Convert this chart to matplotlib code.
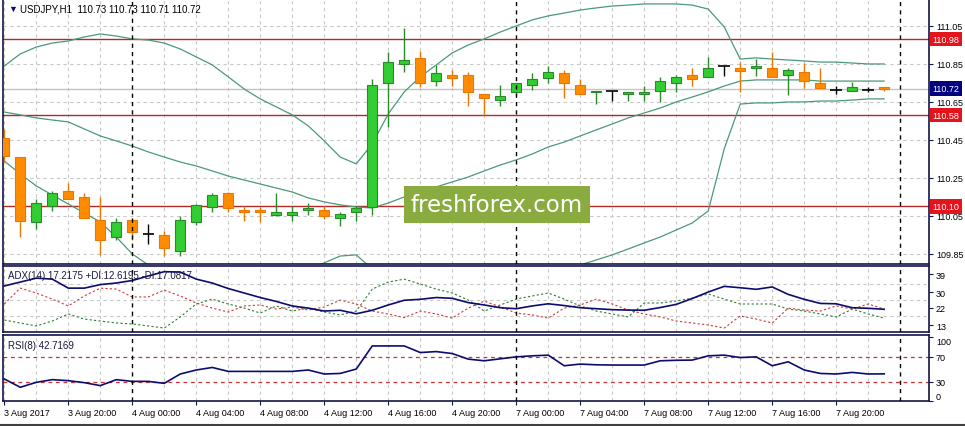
import matplotlib.pyplot as plt
import matplotlib.transforms as mtransforms
from matplotlib.lines import Line2D
from matplotlib.patches import Rectangle
import numpy as np

plt.rcParams['font.family'] = ['Liberation Sans', 'DejaVu Sans']

# USDJPY H1, 3 Aug 16:00 .. 7 Aug 23:00
opens = [110.459, 110.359, 110.017, 110.104, 110.180, 110.148, 110.029, 109.938, 110.029, 109.955,
         109.950, 109.867, 110.017, 110.096, 110.171, 110.082, 110.082, 110.057, 110.057, 110.080,
         110.082, 110.038, 110.069, 110.096, 110.748, 110.848, 110.880, 110.759, 110.792, 110.792,
         110.690, 110.659, 110.701, 110.738, 110.778, 110.803, 110.739, 110.701, 110.706, 110.690,
         110.690, 110.706, 110.748, 110.792, 110.782, 110.838, 110.827, 110.827, 110.827, 110.790,
         110.806, 110.750, 110.715, 110.706, 110.715, 110.730]
highs = [110.508, 110.360, 110.139, 110.183, 110.222, 110.171, 110.152, 110.039, 110.038, 110.008,
         109.973, 110.048, 110.113, 110.171, 110.178, 110.104, 110.096, 110.171, 110.104, 110.117,
         110.101, 110.069, 110.104, 110.771, 110.912, 111.039, 110.917, 110.846, 110.820, 110.806,
         110.690, 110.739, 110.750, 110.803, 110.838, 110.820, 110.771, 110.708, 110.706, 110.704,
         110.736, 110.780, 110.792, 110.827, 110.885, 110.838, 110.859, 110.876, 110.912, 110.827,
         110.854, 110.827, 110.736, 110.757, 110.729, 110.730]
lows = [110.334, 109.939, 109.982, 110.078, 110.138, 110.038, 109.845, 109.925, 109.925, 109.903,
        109.838, 109.838, 110.003, 110.069, 110.069, 110.025, 110.017, 110.052, 110.025, 110.057,
        110.034, 109.999, 110.025, 110.057, 110.517, 110.806, 110.727, 110.736, 110.736, 110.627,
        110.582, 110.627, 110.687, 110.715, 110.750, 110.669, 110.690, 110.638, 110.657, 110.657,
        110.657, 110.648, 110.704, 110.736, 110.782, 110.788, 110.701, 110.788, 110.780, 110.687,
        110.724, 110.718, 110.692, 110.706, 110.701, 110.710]
closes = [110.367, 110.025, 110.117, 110.170, 110.138, 110.038, 109.925, 110.017, 109.967, 109.955,
          109.880, 110.029, 110.108, 110.160, 110.090, 110.069, 110.069, 110.069, 110.069, 110.092,
          110.048, 110.059, 110.092, 110.739, 110.859, 110.871, 110.748, 110.801, 110.778, 110.701,
          110.669, 110.680, 110.750, 110.771, 110.806, 110.748, 110.690, 110.708, 110.706, 110.704,
          110.704, 110.759, 110.780, 110.769, 110.827, 110.838, 110.815, 110.838, 110.780, 110.818,
          110.759, 110.725, 110.715, 110.727, 110.715, 110.720]

# Bollinger bands
bb_upper = [110.839, 110.903, 110.939, 110.960, 110.971, 110.992, 111.008, 110.997, 110.982, 110.976,
            110.960, 110.929, 110.887, 110.845, 110.782, 110.718, 110.666, 110.624, 110.582, 110.524,
            110.445, 110.360, 110.324, 110.429, 110.587, 110.703, 110.782, 110.845, 110.908, 110.950,
            110.982, 111.018, 111.050, 111.082, 111.103, 111.118, 111.134, 111.145, 111.155, 111.160,
            111.166, 111.166, 111.166, 111.160, 111.139, 111.045, 110.876, 110.882, 110.876, 110.871,
            110.866, 110.860, 110.860, 110.855, 110.850, 110.850]
bb_middle = [110.597, 110.582, 110.566, 110.555, 110.545, 110.508, 110.471, 110.445, 110.418, 110.387,
             110.360, 110.334, 110.313, 110.287, 110.260, 110.239, 110.218, 110.197, 110.176, 110.145,
             110.124, 110.108, 110.097, 110.092, 110.118, 110.150, 110.176, 110.203, 110.229, 110.255,
             110.287, 110.318, 110.345, 110.376, 110.413, 110.439, 110.471, 110.503, 110.534, 110.566,
             110.592, 110.618, 110.650, 110.676, 110.703, 110.734, 110.760, 110.766, 110.766, 110.766,
             110.766, 110.760, 110.760, 110.760, 110.760, 110.760]
bb_lower = [110.339, 110.271, 110.208, 110.160, 110.113, 110.066, 110.018, 109.939, 109.850, 109.792,
            109.755, 109.724, 109.739, 109.729, 109.739, 109.760, 109.771, 109.771, 109.771, 109.766,
            109.803, 109.839, 109.845, 109.771, 109.650, 109.597, 109.571, 109.560, 109.550, 109.560,
            109.592, 109.618, 109.639, 109.692, 109.729, 109.771, 109.792, 109.818, 109.845, 109.876,
            109.908, 109.939, 109.976, 110.013, 110.076, 110.403, 110.639, 110.645, 110.645, 110.650,
            110.650, 110.655, 110.655, 110.660, 110.666, 110.666]

adx = [33.1, 35.1, 37.1, 36.6, 32.0, 32.0, 33.8, 34.6, 35.9, 38.2,
       40.4, 40.2, 36.6, 34.6, 31.8, 29.5, 27.2, 25.2, 22.9, 21.8,
       20.3, 20.7, 18.9, 20.7, 23.4, 25.8, 26.3, 27.2, 26.8, 24.6,
       23.4, 22.0, 21.5, 22.9, 24.0, 23.1, 22.0, 21.5, 21.0, 20.8,
       20.7, 22.1, 23.7, 26.7, 30.0, 32.9, 32.2, 31.4, 32.6, 28.8,
       26.3, 24.2, 24.0, 22.0, 21.7, 21.2]
plus_di = [15.7, 14.2, 12.7, 15.2, 18.8, 16.2, 15.2, 14.2, 13.7, 12.7,
           11.6, 17.3, 23.9, 26.4, 23.9, 21.8, 19.3, 22.9, 20.3, 21.8,
           19.8, 18.3, 20.3, 31.5, 35.1, 36.6, 34.1, 31.5, 29.5, 25.9,
           20.3, 23.4, 26.4, 28.0, 29.5, 26.4, 22.9, 20.3, 18.8, 17.3,
           24.4, 24.4, 25.4, 26.9, 29.0, 26.4, 23.9, 23.9, 23.9, 21.3,
           20.3, 18.8, 17.3, 21.3, 18.8, 16.7]
minus_di = [23.9, 32.0, 29.5, 26.4, 22.9, 28.0, 32.0, 31.5, 27.5, 27.5,
            31.0, 28.0, 24.4, 21.8, 19.8, 22.9, 23.4, 21.3, 22.4, 20.8,
            22.4, 25.9, 23.9, 20.3, 18.8, 16.9, 20.3, 18.8, 16.7, 21.8,
            25.4, 22.4, 19.3, 18.3, 16.7, 21.8, 23.4, 26.4, 23.9, 20.8,
            18.8, 17.3, 15.2, 14.2, 13.2, 11.6, 17.8, 16.2, 14.2, 21.8,
            20.8, 20.3, 22.9, 21.3, 23.9, 21.3]
rsi = [34.7, 21.6, 29.4, 33.6, 32.0, 28.9, 24.2, 33.6, 30.9, 30.9,
       27.8, 42.5, 48.8, 52.8, 46.6, 46.6, 46.6, 46.6, 46.6, 48.8,
       42.5, 43.4, 50.3, 86.7, 86.7, 86.7, 76.3, 77.8, 74.7, 65.9,
       63.3, 66.4, 69.5, 71.1, 72.2, 55.5, 58.1, 57.0, 56.6, 56.6,
       56.6, 63.3, 64.1, 64.4, 71.1, 72.2, 68.4, 69.5, 55.5, 61.7,
       48.8, 43.4, 42.5, 45.0, 42.5, 42.7]

price_ticks = [111.05, 110.85, 110.65, 110.45, 110.25, 110.05, 109.85]
levels = [110.98, 110.58, 110.10]
bid = 110.72
adx_ticks = [39, 30, 22, 13]
rsi_ticks = [100, 70, 30, 0]
rsi_levels = [70, 30]
time_labels = ["3 Aug 2017", "3 Aug 20:00", "4 Aug 00:00", "4 Aug 04:00", "4 Aug 08:00",
               "4 Aug 12:00", "4 Aug 16:00", "4 Aug 20:00", "7 Aug 00:00", "7 Aug 04:00",
               "7 Aug 08:00", "7 Aug 12:00", "7 Aug 16:00", "7 Aug 20:00"]
day_breaks = [8, 32, 56]

GREEN, GREEN_EDGE = '#32cd32', '#2a8a2a'
ORANGE, ORANGE_EDGE = '#ff8c00', '#e87800'
BAND = '#4a9a76'
LEVEL_RED = '#b02a2a'
FRAME = '#14144a'
GRID = '#c8c8c8'
NAVY = '#0c0c70'

W, H = 965, 427


def fy(px):
    return 1 - px / H


fig = plt.figure(figsize=(W / 100, H / 100), dpi=100)
left, width = 3 / W, 926 / W
ax = fig.add_axes([left, fy(265), width, 265 / H])
ax_adx = fig.add_axes([left, fy(333), width, 66 / H])
ax_rsi = fig.add_axes([left, fy(402), width, 66 / H])

x = np.arange(len(opens))
o, h, l, c = map(np.array, (opens, highs, lows, closes))
up = c > o + 0.001
down = c < o - 0.001
flat = ~(up | down)

for a in (ax, ax_adx, ax_rsi):
    a.set_xlim(-0.08, 57.8)
    for s in a.spines.values():
        s.set_color(FRAME)
        s.set_linewidth(1.2)
    for gx in range(0, 58, 2):
        if gx not in day_breaks:
            a.axvline(gx, color=GRID, lw=0.8, ls=(0, (3, 3)), zorder=0)
    for d in day_breaks:
        a.axvline(d, color='black', lw=1, ls=(0, (3, 3)), zorder=6)
    a.yaxis.tick_right()
    a.tick_params(axis='y', direction='out', length=3, labelsize=6.5, pad=2, color=FRAME)
    a.tick_params(axis='x', bottom=False, labelbottom=False)

# main price panel
ax.set_ylim(109.797, 111.192)
ax.set_yticks(price_ticks)
ax.set_yticklabels([f"{p:.2f}" for p in price_ticks])
ax.grid(axis='y', color=GRID, lw=0.8, ls=(0, (3, 3)))
ax.set_axisbelow(True)
for lv in levels:
    ax.axhline(lv, color=LEVEL_RED, lw=1, zorder=1.5)
ax.axhline(bid, color='#c4c4c4', lw=1, zorder=1.4)

ax.plot(x, bb_upper, color=BAND, lw=0.9, zorder=2)
ax.plot(x, bb_middle, color=BAND, lw=0.9, zorder=2)
ax.plot(x, bb_lower, color=BAND, lw=0.9, zorder=2)

ax.vlines(x[up], l[up], h[up], color=GREEN_EDGE, lw=1, zorder=3)
ax.bar(x[up], np.maximum(c - o, 0.004)[up], bottom=o[up], width=0.62,
       color=GREEN, edgecolor=GREEN_EDGE, lw=0.8, zorder=4)
ax.vlines(x[down], l[down], h[down], color=ORANGE_EDGE, lw=1, zorder=3)
ax.bar(x[down], np.maximum(o - c, 0.004)[down], bottom=c[down], width=0.62,
       color=ORANGE, edgecolor=ORANGE_EDGE, lw=0.8, zorder=4)
ax.vlines(x[flat], l[flat], h[flat], color='black', lw=1, zorder=3)
ax.hlines(o[flat], x[flat] - 0.36, x[flat] + 0.36, color='black', lw=1.2, zorder=4)

trans = mtransforms.blended_transform_factory(ax.transAxes, ax.transData)
for lv, col in [(110.98, '#e3141c'), (110.58, '#e3141c'), (110.10, '#e3141c'), (bid, '#000080')]:
    ax.text(1.004, lv, f"{lv:.2f}", transform=trans, ha='left', va='center', fontsize=6.5,
            color='white', clip_on=False, zorder=10,
            bbox=dict(boxstyle='square,pad=0.3', fc=col, ec='none'))

# ADX panel
ax_adx.set_ylim(9.6, 43.3)
ax_adx.set_yticks(adx_ticks)
for gy in [34.1, 25.9, 17.8]:
    ax_adx.axhline(gy, color=GRID, lw=0.8, ls=(0, (3, 3)), zorder=0)
ax_adx.plot(x, plus_di, color='#2e7d32', lw=0.8, ls=(0, (2, 2)), zorder=3)
ax_adx.plot(x, minus_di, color='#d03a3a', lw=0.8, ls=(0, (2, 2)), zorder=3)
ax_adx.plot(x, adx, color=NAVY, lw=1.2, zorder=4)

# RSI panel
ax_rsi.set_ylim(0.8, 103.9)
ax_rsi.set_yticks(rsi_ticks)
for lv in rsi_levels:
    ax_rsi.axhline(lv, color='#c83232', lw=0.9, ls=(0, (3, 3)), zorder=1)
ax_rsi.plot(x, rsi, color=NAVY, lw=1.2, zorder=4)
lbls = ax_rsi.get_yticklabels()
lbls[0].set_va('top')
lbls[-1].set_va('bottom')

ax_rsi.set_xticks(range(0, 56, 4))
ax_rsi.set_xticklabels(time_labels, ha='left', fontsize=6.5)
ax_rsi.tick_params(axis='x', bottom=True, labelbottom=True, direction='out',
                   length=3, pad=2, color=FRAME)

# captions
fig.text(8 / W, fy(9), '\u25bc', fontsize=6.5, color=NAVY, va='center', ha='left')
fig.text(20 / W, fy(9), 'USDJPY,H1  110.73 110.73 110.71 110.72', fontsize=7,
         color='black', va='center', ha='left')
fig.text(8 / W, fy(276), 'ADX(14) 17.2175 +DI:12.6195 -DI:17.0817', fontsize=7,
         color='#1a1a40', va='center', ha='left')
fig.text(8 / W, fy(346), 'RSI(8) 42.7169', fontsize=7, color='#1a1a40', va='center', ha='left')

# watermark
fig.patches.append(Rectangle((404 / W, fy(224)), 186 / W, 37 / H, transform=fig.transFigure,
                             fc='#8aab40', ec='none', zorder=20))
fig.text(497 / W, fy(206), 'freshforex.com', fontsize=16.5, family='DejaVu Sans',
         color='white', ha='center', va='center', zorder=21)

fig.add_artist(Line2D([0, 1], [fy(425.5)] * 2, color='#404040', lw=1.5))

fig.savefig('out.png', dpi=100)
